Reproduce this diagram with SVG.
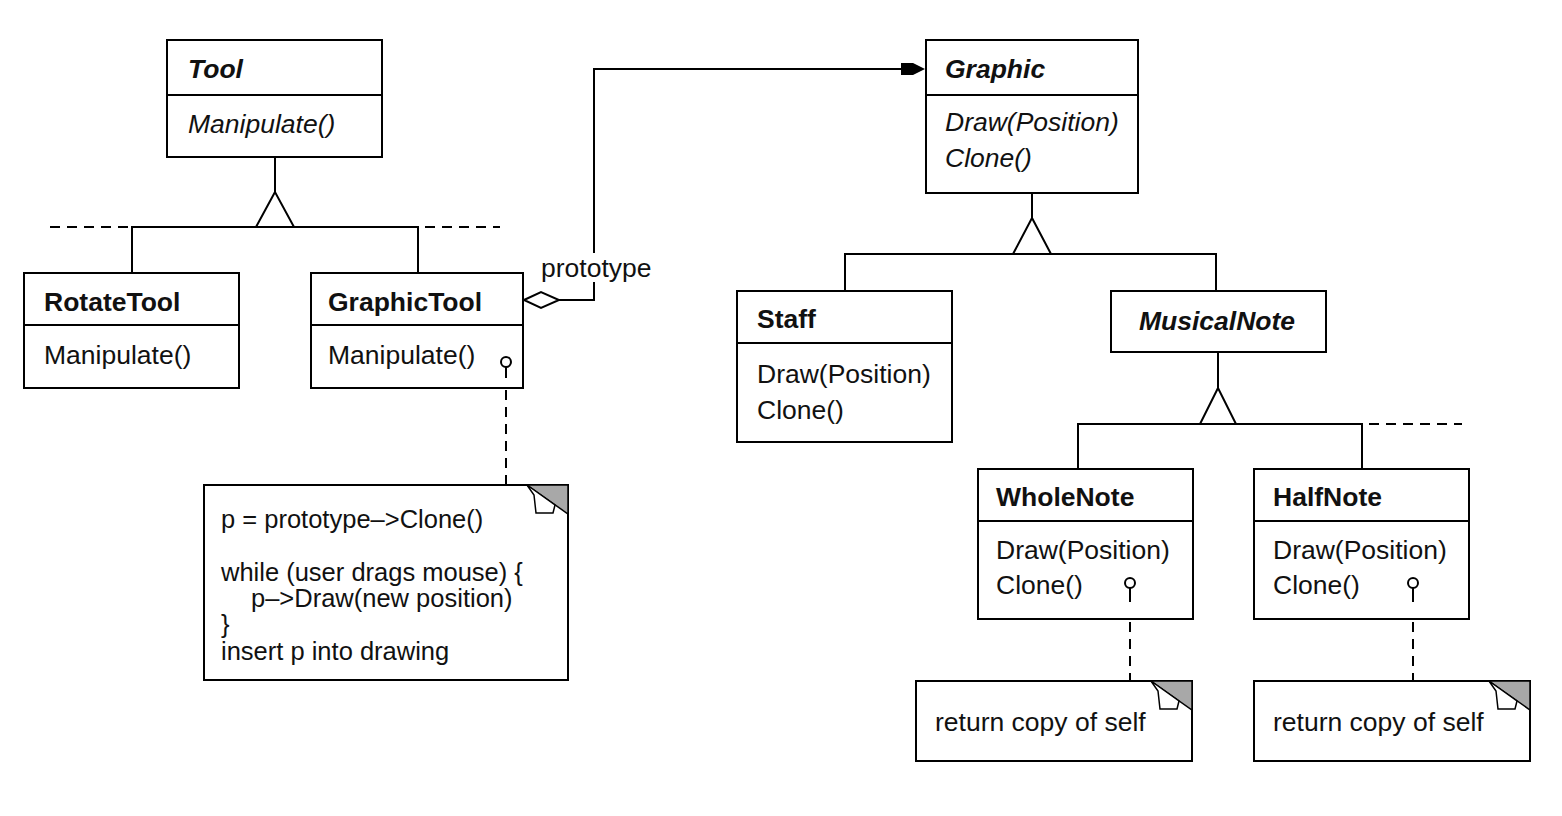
<svg xmlns="http://www.w3.org/2000/svg" width="1562" height="816" viewBox="0 0 1562 816">
<style>
.box{fill:#fff;stroke:#000;stroke-width:2}
.ln{fill:none;stroke:#000;stroke-width:2}
.dash{fill:none;stroke:#000;stroke-width:2;stroke-dasharray:10 7}
.tri{fill:#fff;stroke:#000;stroke-width:2}
.t{font-family:"Liberation Sans",Arial,sans-serif;font-size:26.5px;fill:#111}
.n{font-size:25.5px}
.b{font-weight:bold}
.i{font-style:italic}
.gray{fill:#a8a8a8;stroke:#000;stroke-width:1.5}
.flap{fill:#fff;stroke:#000;stroke-width:1.5}
.lol{fill:#fff;stroke:#000;stroke-width:2}
</style>
<defs>
<g id="fold">
<polygon class="gray" points="-41,0 0,0 0,29"/>
<polygon class="flap" points="-41,0 -34,10 -32,28 -15,28 -13,20"/>
</g>
</defs>
<rect width="1562" height="816" fill="#fff"/>

<g id="Tool">
<rect class="box" x="167" y="40" width="215" height="117"/>
<line class="ln" x1="167" y1="95" x2="382" y2="95"/>
<text class="t b i" x="188" y="78">Tool</text>
<text class="t i" x="188" y="133">Manipulate()</text>
</g>

<g id="RotateTool">
<rect class="box" x="24" y="273" width="215" height="115"/>
<line class="ln" x1="24" y1="325" x2="239" y2="325"/>
<text class="t b" x="44" y="311">RotateTool</text>
<text class="t" x="44" y="364">Manipulate()</text>
</g>

<g id="GraphicTool">
<rect class="box" x="311" y="273" width="212" height="115"/>
<line class="ln" x1="311" y1="325" x2="523" y2="325"/>
<text class="t b" x="328" y="311">GraphicTool</text>
<text class="t" x="328" y="364">Manipulate()</text>
</g>

<g id="Graphic">
<rect class="box" x="926" y="40" width="212" height="153"/>
<line class="ln" x1="926" y1="95" x2="1138" y2="95"/>
<text class="t b i" x="945" y="78">Graphic</text>
<text class="t i" x="945" y="131">Draw(Position)</text>
<text class="t i" x="945" y="167">Clone()</text>
</g>

<g id="Staff">
<rect class="box" x="737" y="291" width="215" height="151"/>
<line class="ln" x1="737" y1="343" x2="952" y2="343"/>
<text class="t b" x="757" y="328">Staff</text>
<text class="t" x="757" y="383">Draw(Position)</text>
<text class="t" x="757" y="419">Clone()</text>
</g>

<g id="MusicalNote">
<rect class="box" x="1111" y="291" width="215" height="61"/>
<text class="t b i" x="1139" y="330">MusicalNote</text>
</g>

<g id="WholeNote">
<rect class="box" x="978" y="469" width="215" height="150"/>
<line class="ln" x1="978" y1="521" x2="1193" y2="521"/>
<text class="t b" x="996" y="506">WholeNote</text>
<text class="t" x="996" y="559">Draw(Position)</text>
<text class="t" x="996" y="594">Clone()</text>
</g>

<g id="HalfNote">
<rect class="box" x="1254" y="469" width="215" height="150"/>
<line class="ln" x1="1254" y1="521" x2="1469" y2="521"/>
<text class="t b" x="1273" y="506">HalfNote</text>
<text class="t" x="1273" y="559">Draw(Position)</text>
<text class="t" x="1273" y="594">Clone()</text>
</g>

<g id="noteGraphicTool">
<rect class="box" x="204" y="485" width="364" height="195"/>
<use href="#fold" x="568" y="485"/>
<text class="t n" x="221" y="528">p = prototype–&gt;Clone()</text>
<text class="t n" x="221" y="581">while (user drags mouse) {</text>
<text class="t n" x="251" y="607">p–&gt;Draw(new position)</text>
<text class="t n" x="221" y="633">}</text>
<text class="t n" x="221" y="660">insert p into drawing</text>
</g>

<g id="noteWholeNote">
<rect class="box" x="916" y="681" width="276" height="80"/>
<use href="#fold" x="1192" y="681"/>
<text class="t" x="935" y="731">return copy of self</text>
</g>

<g id="noteHalfNote">
<rect class="box" x="1254" y="681" width="276" height="80"/>
<use href="#fold" x="1530" y="681"/>
<text class="t" x="1273" y="731">return copy of self</text>
</g>

<g id="connectors">
<!-- Tool inheritance -->
<line class="ln" x1="275" y1="157" x2="275" y2="192"/>
<polyline class="ln" points="132,273 132,227 418,227 418,273"/>
<line class="dash" x1="50" y1="227" x2="132" y2="227"/>
<line class="dash" x1="425" y1="227" x2="500" y2="227"/>
<polygon class="tri" points="275,192 256,227 294,227"/>
<!-- Aggregation prototype -->
<polyline class="ln" points="559,300 594,300 594,282"/>
<polyline class="ln" points="594,253 594,69 903,69"/>
<polygon points="901,63 913,63 925,69 913,75 901,75" fill="#000"/>
<polygon class="tri" points="524,300 541,292 559,300 541,308"/>
<text class="t" x="541" y="277">prototype</text>
<!-- Graphic inheritance -->
<line class="ln" x1="1032" y1="193" x2="1032" y2="218"/>
<polyline class="ln" points="845,291 845,254 1216,254 1216,291"/>
<polygon class="tri" points="1032,218 1013,254 1051,254"/>
<!-- MusicalNote inheritance -->
<line class="ln" x1="1218" y1="352" x2="1218" y2="388"/>
<polyline class="ln" points="1078,469 1078,424 1362,424 1362,469"/>
<line class="dash" x1="1369" y1="424" x2="1462" y2="424"/>
<polygon class="tri" points="1218,388 1200,424 1236,424"/>
<!-- note links -->
<line class="ln" x1="506" y1="367" x2="506" y2="378"/>
<line class="dash" x1="506" y1="390" x2="506" y2="485"/>
<line class="ln" x1="1130" y1="588" x2="1130" y2="602"/>
<line class="dash" x1="1130" y1="622" x2="1130" y2="681"/>
<line class="ln" x1="1413" y1="588" x2="1413" y2="602"/>
<line class="dash" x1="1413" y1="622" x2="1413" y2="681"/>
<circle class="lol" cx="506" cy="362" r="5"/>
<circle class="lol" cx="1130" cy="583" r="5"/>
<circle class="lol" cx="1413" cy="583" r="5"/>
</g>
</svg>
